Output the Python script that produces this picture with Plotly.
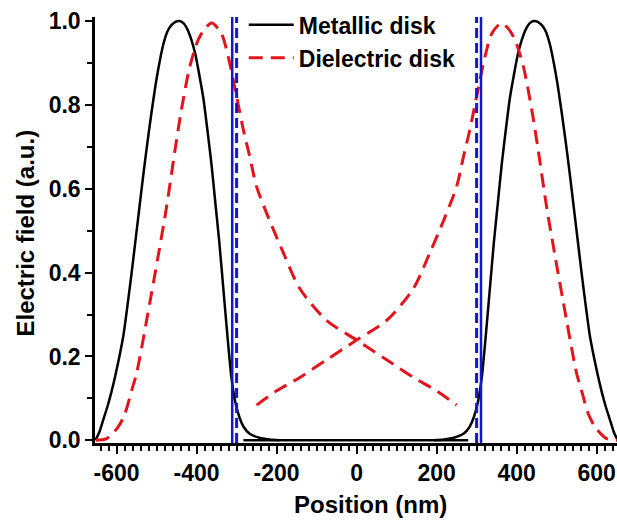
import plotly.graph_objects as go

# Metallic disk: left lobe (with decaying tail), flat interior, right lobe
metal_left_x = [-653, -643, -633, -623, -613, -603, -593, -583, -573, -563, -553, -543, -533, -523,
                -513, -503, -493, -483, -473, -463, -453, -443, -433, -423, -413, -403, -393, -383,
                -373, -363, -353, -343, -333, -323, -313, -303, -293, -283, -268, -243, -218, -193]
metal_left_y = [0.0, 0.02, 0.05, 0.08, 0.115, 0.155, 0.2, 0.25, 0.32, 0.395, 0.475, 0.555, 0.635, 0.71,
                0.78, 0.845, 0.9, 0.945, 0.975, 0.99, 0.998, 1.0, 0.995, 0.98, 0.955, 0.92, 0.87, 0.815,
                0.74, 0.66, 0.565, 0.47, 0.36, 0.25, 0.15, 0.09, 0.055, 0.033, 0.016, 0.006, 0.002, 0.0]
metal_mid_x = [-283, 279]
metal_mid_y = [0.0, 0.0]
metal_right_x = [193, 218, 243, 268, 283, 293, 303, 313, 323, 333, 343, 353, 363, 373,
                 383, 393, 403, 413, 423, 433, 443, 453, 463, 473, 483, 493, 503, 513,
                 523, 533, 543, 553, 563, 573, 583, 593, 603, 613, 623, 633, 643, 653]
metal_right_y = [0.0, 0.002, 0.006, 0.016, 0.033, 0.055, 0.09, 0.15, 0.25, 0.36, 0.47, 0.565, 0.66, 0.74,
                 0.815, 0.87, 0.92, 0.955, 0.98, 0.995, 1.0, 0.998, 0.99, 0.975, 0.945, 0.9, 0.845, 0.78,
                 0.71, 0.635, 0.555, 0.475, 0.395, 0.32, 0.25, 0.2, 0.155, 0.115, 0.08, 0.05, 0.02, 0.0]

# Dielectric disk: left-peaked profile decaying across the disk, and its right-peaked counterpart
diel_a_x = [-652, -625, -596, -579, -562, -550, -517, -496, -475, -454, -438, -417, -396, -379,
            -362, -338, -321, -300, -283, -267, -250, -220, -183, -142, -75, 0, 75, 142, 200, 250]
diel_a_y = [0.0, 0.004, 0.032, 0.064, 0.12, 0.16, 0.328, 0.44, 0.557, 0.692, 0.788, 0.891, 0.955, 0.982,
            0.995, 0.97, 0.915, 0.82, 0.74, 0.676, 0.605, 0.53, 0.447, 0.362, 0.286, 0.239, 0.192, 0.15, 0.118, 0.084]
diel_b_x = [-250, -200, -142, -75, 0, 75, 142, 183, 220, 250, 267, 283, 300, 321, 338,
            362, 379, 396, 417, 438, 454, 475, 496, 517, 550, 562, 579, 596, 625, 651]
diel_b_y = [0.084, 0.118, 0.15, 0.192, 0.239, 0.286, 0.362, 0.447, 0.53, 0.605, 0.676, 0.74, 0.82, 0.915, 0.97,
            0.995, 0.982, 0.955, 0.891, 0.788, 0.692, 0.557, 0.44, 0.328, 0.16, 0.12, 0.064, 0.032, 0.004, 0.0]

# Disk boundaries
edge_solid_x = [-311, 311]
edge_dash_x = [-300, 300]
edge_y = [-0.0064, 1.0095]

x_ticks = [-600, -400, -200, 0, 200, 400, 600]
x_tick_text = ["-600", "-400", "-200", "0", "200", "400", "600"]
y_ticks = [0.0, 0.2, 0.4, 0.6, 0.8, 1.0]
y_tick_text = ["0.0", "0.2", "0.4", "0.6", "0.8", "1.0"]

BLACK = "#000000"
RED = "#e3141c"
BLUE = "#1414d8"
FONT = "Arial, Liberation Sans, sans-serif"

fig = go.Figure()
fig.add_trace(go.Scatter(x=metal_left_x, y=metal_left_y, mode="lines", name="Metallic disk",
                         line=dict(color=BLACK, width=2.5, shape="spline", smoothing=0.6),
                         legendgroup="m", showlegend=True))
fig.add_trace(go.Scatter(x=metal_mid_x, y=metal_mid_y, mode="lines", name="Metallic disk",
                         line=dict(color=BLACK, width=2.5), legendgroup="m", showlegend=False))
fig.add_trace(go.Scatter(x=metal_right_x, y=metal_right_y, mode="lines", name="Metallic disk",
                         line=dict(color=BLACK, width=2.5, shape="spline", smoothing=0.6),
                         legendgroup="m", showlegend=False))
fig.add_trace(go.Scatter(x=diel_a_x, y=diel_a_y, mode="lines", name="Dielectric disk",
                         line=dict(color=RED, width=3, dash="14px,8px", shape="spline", smoothing=0.8),
                         legendgroup="d", showlegend=True))
fig.add_trace(go.Scatter(x=diel_b_x, y=diel_b_y, mode="lines", name="Dielectric disk",
                         line=dict(color=RED, width=3, dash="14px,8px", shape="spline", smoothing=0.8),
                         legendgroup="d", showlegend=False))
for xv in edge_dash_x:
    fig.add_trace(go.Scatter(x=[xv, xv], y=edge_y, mode="lines", showlegend=False,
                             line=dict(color=BLUE, width=3, dash="10px,5px")))
for xv in edge_solid_x:
    fig.add_trace(go.Scatter(x=[xv, xv], y=edge_y, mode="lines", showlegend=False,
                             line=dict(color=BLUE, width=2.5)))

fig.update_layout(
    width=617, height=520,
    margin=dict(l=95, r=0, t=17, b=77),
    paper_bgcolor="white", plot_bgcolor="white",
    font=dict(family=FONT, size=22, color="black"),
    showlegend=True,
    legend=dict(x=0.285, y=1.032, xanchor="left", yanchor="top", bgcolor="rgba(0,0,0,0)",
                borderwidth=0, itemwidth=45, tracegroupgap=0,
                font=dict(family=FONT, size=23, color="black", weight="bold")),
    xaxis=dict(range=[-654, 651], showgrid=False, zeroline=False,
               showline=True, linecolor="black", linewidth=2.5,
               ticks="outside", ticklen=8, tickwidth=2, tickcolor="black",
               tickvals=x_ticks, ticktext=x_tick_text,
               tickfont=dict(family=FONT, size=23, color="black", weight="bold"),
               minor=dict(dtick=20, tick0=0, ticks="outside", ticklen=5, tickwidth=2, tickcolor="black")),
    yaxis=dict(range=[-0.0064, 1.0095], showgrid=False, zeroline=False,
               showline=True, linecolor="black", linewidth=2.5,
               ticks="outside", ticklen=7, tickwidth=2, tickcolor="black",
               tickvals=y_ticks, ticktext=y_tick_text,
               tickfont=dict(family=FONT, size=23, color="black", weight="bold"),
               minor=dict(dtick=0.1, tick0=0, ticks="outside", ticklen=5, tickwidth=2, tickcolor="black")),
    annotations=[
        dict(text="Position (nm)", xref="paper", yref="paper", x=0.5287, y=-0.1455,
             xanchor="center", yanchor="middle", showarrow=False,
             font=dict(family=FONT, size=24, color="black", weight="bold")),
        dict(text="Electric field (a.u.)", xref="paper", yref="paper", x=-0.1322, y=0.494,
             xanchor="center", yanchor="middle", textangle=-90, showarrow=False,
             font=dict(family=FONT, size=24, color="black", weight="bold")),
    ],
)

fig.write_html("out.html")
